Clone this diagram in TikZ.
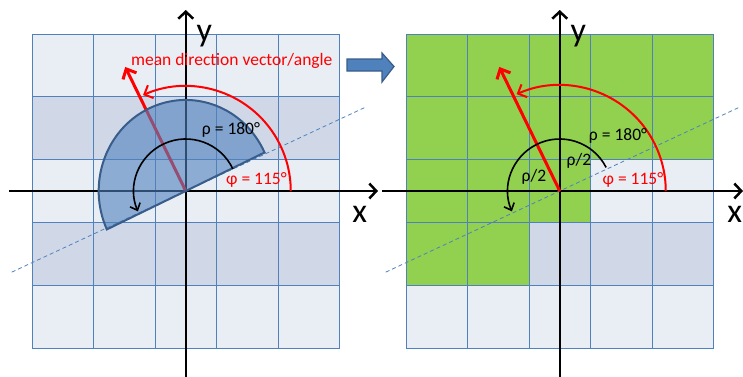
\documentclass[tikz,border=0pt]{standalone}
\usepackage{fontspec}
\setmainfont{Carlito}
\usetikzlibrary{arrows.meta,positioning}
\definecolor{gridblue}{RGB}{79,129,189}
\definecolor{edgeblue}{RGB}{56,93,138}
\definecolor{celllight}{RGB}{233,237,244}
\definecolor{celldark}{RGB}{208,216,232}
\definecolor{cellgreen}{RGB}{146,208,80}

\begin{document}
\begin{tikzpicture}[x=1pt,y=1pt,
  lbl/.style={font=\fontsize{17.5}{20}\selectfont,inner sep=0pt},
  axlbl/.style={font=\fontsize{34}{36}\selectfont,inner sep=0pt},
  axis/.style={line width=2.5pt,-{Straight Barb[length=7pt,width=15pt,line width=2.5pt]}},
  gridline/.style={gridblue,line width=1pt},
  redvec/.style={red,line width=3pt,-{Straight Barb[length=8pt,width=15pt,line width=3pt]}},
  redarc/.style={red,line width=2pt,-{Straight Barb[length=7pt,width=14pt,line width=2pt]}},
  blackarc/.style={black,line width=1.6pt,-{Straight Barb[length=6pt,width=11pt,line width=1.6pt]}},
  dashline/.style={gridblue,line width=0.8pt,dash pattern=on 4pt off 3pt}]
\useasboundingbox (0,0) rectangle (743,376);

% left panel
\begin{scope}[shift={(185.75,185)}]
\coordinate (oL) at (0,0);
\foreach \j/\c in {0/celllight,1/celldark,2/celllight,3/celldark,4/celllight}
  \fill[\c] (-153.75,-157+\j*62.8) rectangle ++(307.5,62.8);
\foreach \i in {0,...,5}
  \draw[gridline] (-153.75+\i*61.5,-157) -- (-153.75+\i*61.5,157);
\foreach \j in {0,...,5}
  \draw[gridline] (-153.75,-157+\j*62.8) -- (153.75,-157+\j*62.8);
\coordinate (xL0) at (-176.75,0);
\coordinate (xL1) at (192.25,0);
\coordinate (yL0) at (0,-186);
\coordinate (yL1) at (0,181);
\draw[axis] (xL0) -- (xL1);
\draw[axis] (yL0) -- (yL1);
\coordinate (dL0) at (205:192);
\coordinate (dL1) at (25:198);
\draw[dashline] (dL0) -- (dL1);
\coordinate (vL) at (116:138);
\draw[redvec] (oL) -- (vL);
\filldraw[fill=gridblue,fill opacity=0.6,draw=edgeblue,line width=2pt]
  (oL) -- (78.8,38.5) arc[start angle=25,end angle=205,x radius=87,y radius=91] -- cycle;
\draw[blackarc] (25:52) arc[start angle=25,end angle=203,radius=52];
\draw[redarc] (0:105) arc[start angle=0,end angle=114,radius=105];
\node[axlbl] (xlabL) at (174,-23) {x};
\node[axlbl] (ylabL) at (18.5,155) {y};
\node[lbl,text=red] (meanL) at (46,130) {mean direction vector/angle};
\node[lbl] (rhoL) at (45.25,61) {ρ = 180°};
\node[lbl,text=red] (phiL) at (70.75,11) {φ = 115°};
\end{scope}

% arrow between the panels
\filldraw[fill=gridblue,draw=edgeblue,line width=1.2pt]
  (347,305) -- (382,305) -- (382,294) -- (394,309.5) -- (382,323) -- (382,317) -- (347,317) -- cycle;

% right panel
\begin{scope}[shift={(559.75,185)}]
\coordinate (oR) at (0,0);
\foreach \j/\c in {0/celllight,1/celldark,2/celllight,3/celldark,4/celllight}
  \fill[\c] (-153.75,-157+\j*62.8) rectangle ++(307.5,62.8);
\fill[cellgreen] (-153.75,157) -- (153.75,157) -- (153.75,31.4) -- (30.75,31.4)
  -- (30.75,-31.4) -- (-30.75,-31.4) -- (-30.75,-94.2) -- (-153.75,-94.2) -- cycle;
\foreach \i in {0,...,5}
  \draw[gridline] (-153.75+\i*61.5,-157) -- (-153.75+\i*61.5,157);
\foreach \j in {0,...,5}
  \draw[gridline] (-153.75,-157+\j*62.8) -- (153.75,-157+\j*62.8);
\coordinate (xR0) at (-177.75,0);
\coordinate (xR1) at (183.25,0);
\coordinate (yR0) at (0,-186);
\coordinate (yR1) at (0,181);
\draw[axis] (xR0) -- (xR1);
\draw[axis] (yR0) -- (yR1);
\coordinate (dR0) at (205:192);
\coordinate (dR1) at (25:198);
\draw[dashline] (dR0) -- (dR1);
\coordinate (vR) at (116:138);
\draw[redvec] (oR) -- (vR);
\draw[blackarc] (27:52) arc[start angle=27,end angle=203,radius=52];
\draw[redarc] (0:106) arc[start angle=0,end angle=114,radius=106];
\node[axlbl] (xlabR) at (175,-23) {x};
\node[axlbl] (ylabR) at (18.5,155) {y};
\node[lbl] (rhoR) at (58.25,55) {ρ = 180°};
\node[lbl] (halfA) at (19.25,30) {ρ/2};
\node[lbl] (halfB) at (-25.75,14) {ρ/2};
\node[lbl,text=red] (phiR) at (73.25,11) {φ = 115°};
\end{scope}
\end{tikzpicture}
\end{document}
